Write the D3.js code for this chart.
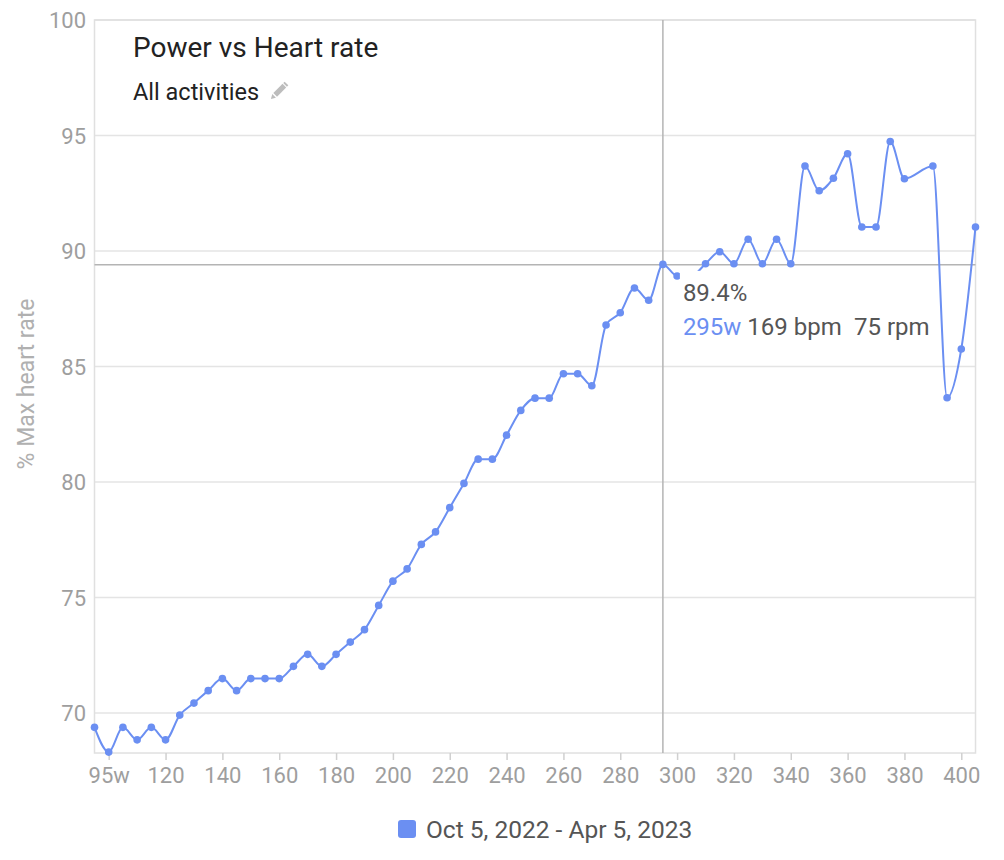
<!DOCTYPE html>
<html>
<head>
<meta charset="UTF-8" />
<title>Power vs Heart rate</title>
<script src="https://d3js.org/d3.v7.min.js"></script>
<style>
  body { margin: 0; background: #fff; font-family: Roboto, 'Noto Sans', sans-serif; }
  svg { display: block; }
</style>
</head>
<body>
<svg id="chart" width="1004" height="860"></svg>
<script>
// power (w) and % max heart rate per bin
const watts = [95, 100, 105, 110, 115, 120, 125, 130, 135, 140, 145, 150, 155, 160, 165, 170, 175, 180,
  185, 190, 195, 200, 205, 210, 215, 220, 225, 230, 235, 240, 245, 250, 255, 260, 265, 270, 275, 280,
  285, 290, 295, 300, 305, 310, 315, 320, 325, 330, 335, 340, 345, 350, 355, 360, 365, 370, 375, 380,
  390, 395, 400, 405];
const heartPct = [69.38, 68.31, 69.38, 68.84, 69.38, 68.84, 69.91, 70.43, 70.97, 71.49, 70.97, 71.49,
  71.49, 71.49, 72.02, 72.54, 72.02, 72.54, 73.07, 73.61, 74.66, 75.71, 76.24, 77.30, 77.84, 78.89,
  79.94, 80.99, 80.99, 82.03, 83.10, 83.63, 83.63, 84.69, 84.69, 84.17, 86.80, 87.33, 88.40, 87.87,
  89.42, 88.92, 88.92, 89.45, 89.97, 89.45, 90.51, 89.45, 90.51, 89.45, 93.68, 92.61, 93.15, 94.21,
  91.04, 91.04, 94.74, 93.13, 93.68, 83.65, 85.76, 91.04];

const xTicks = [100, 120, 140, 160, 180, 200, 220, 240, 260, 280, 300, 320, 340, 360, 380, 400];
const xTickLabels = ["95w", "120", "140", "160", "180", "200", "220", "240", "260", "280", "300",
  "320", "340", "360", "380", "400"];
const yTicks = [70, 75, 80, 85, 90, 95, 100];

// hovered point shown in the tooltip
const hover = { w: 295, pct: 89.4, bpm: 169, rpm: 75 };
const legendLabel = "Oct 5, 2022 - Apr 5, 2023";

const blue = "#6b8ff2";
const plotL = 94.5, plotR = 975.5, plotT = 20, plotB = 753;

const svg = d3.select("#chart");
const x = d3.scaleLinear().domain([95, 405]).range([plotL, plotR]);
const y = d3.scaleLinear().domain([68.27, 100]).range([plotB, plotT]);

// grid
svg.append("g")
  .selectAll("line")
  .data(yTicks)
  .join("line")
  .attr("x1", plotL).attr("x2", plotR)
  .attr("y1", d => y(d)).attr("y2", d => y(d))
  .attr("stroke", "#e4e4e4").attr("stroke-width", 1.5);

// frame
svg.append("rect")
  .attr("x", plotL).attr("y", plotT)
  .attr("width", plotR - plotL).attr("height", plotB - plotT)
  .attr("fill", "none").attr("stroke", "#e0e0e0").attr("stroke-width", 1.5);

// y labels
svg.append("g")
  .selectAll("text")
  .data(yTicks)
  .join("text")
  .attr("x", 86).attr("y", d => y(d) + 8)
  .attr("text-anchor", "end")
  .attr("font-size", "22px").attr("fill", "#9e9e9e")
  .text(d => d);

// x axis
const xAxis = d3.axisBottom(x)
  .tickValues(xTicks)
  .tickSize(7)
  .tickFormat((d, i) => xTickLabels[i]);
const gx = svg.append("g").attr("transform", `translate(0,${plotB})`).call(xAxis);
gx.select(".domain").remove();
gx.selectAll(".tick line").attr("stroke", "#d0d0d0").attr("stroke-width", 1.5);
gx.selectAll(".tick text")
  .attr("y", 14)
  .attr("font-family", "Roboto, sans-serif")
  .attr("font-size", "22px").attr("fill", "#9e9e9e");

// y title
svg.append("text")
  .attr("transform", "translate(34,384) rotate(-90)")
  .attr("text-anchor", "middle")
  .attr("font-size", "23px").attr("fill", "#b0b0b0")
  .text("% Max heart rate");

// crosshair
svg.append("line")
  .attr("x1", x(hover.w)).attr("x2", x(hover.w))
  .attr("y1", plotT).attr("y2", plotB)
  .attr("stroke", "#b4b4b4").attr("stroke-width", 1.5);
svg.append("line")
  .attr("x1", plotL).attr("x2", plotR)
  .attr("y1", y(hover.pct)).attr("y2", y(hover.pct))
  .attr("stroke", "#b4b4b4").attr("stroke-width", 1.5);

// series
const pts = watts.map((w, i) => [w, heartPct[i]]);
const line = d3.line()
  .x(d => x(d[0])).y(d => y(d[1]))
  .curve(d3.curveMonotoneX);
svg.append("path")
  .datum(pts)
  .attr("d", line)
  .attr("fill", "none").attr("stroke", blue).attr("stroke-width", 2);
svg.append("g")
  .selectAll("circle")
  .data(pts)
  .join("circle")
  .attr("cx", d => x(d[0])).attr("cy", d => y(d[1]))
  .attr("r", 3.8).attr("fill", blue);

// tooltip
const tx = x(hover.w) + 20, ty = y(hover.pct);
svg.append("rect")
  .attr("x", tx - 3).attr("y", ty + 6)
  .attr("width", 254).attr("height", 80)
  .attr("fill", "#fff");
svg.append("text")
  .attr("x", tx).attr("y", ty + 36)
  .attr("font-size", "24px").attr("fill", "#555")
  .text(hover.pct + "%");
const t2 = svg.append("text")
  .attr("x", tx).attr("y", ty + 70)
  .attr("font-size", "24px").attr("fill", "#555");
t2.append("tspan").attr("fill", blue).text(hover.w + "w");
t2.append("tspan").text(" " + hover.bpm + " bpm\u2002" + hover.rpm + " rpm");

// title
svg.append("text")
  .attr("x", 133).attr("y", 57)
  .attr("font-size", "28px").attr("fill", "#222")
  .text("Power vs Heart rate");
svg.append("text")
  .attr("x", 133).attr("y", 100)
  .attr("font-size", "23.5px").attr("fill", "#222")
  .text("All activities");
// pencil icon
svg.append("g")
  .attr("transform", "translate(278,92) rotate(45)")
  .call(g => {
    g.append("rect").attr("x", -2.6).attr("y", -9).attr("width", 5.2).attr("height", 13).attr("fill", "#bdbdbd");
    g.append("path").attr("d", "M-2.6,5.5 L2.6,5.5 L0,10 Z").attr("fill", "#bdbdbd");
    g.append("rect").attr("x", -2.6).attr("y", -12).attr("width", 5.2).attr("height", 2).attr("fill", "#bdbdbd");
  });

// legend
svg.append("rect")
  .attr("x", 398).attr("y", 820)
  .attr("width", 18).attr("height", 18).attr("rx", 3)
  .attr("fill", blue);
svg.append("text")
  .attr("x", 426).attr("y", 838)
  .attr("font-size", "24.5px").attr("fill", "#555")
  .text(legendLabel);
</script>
</body>
</html>
